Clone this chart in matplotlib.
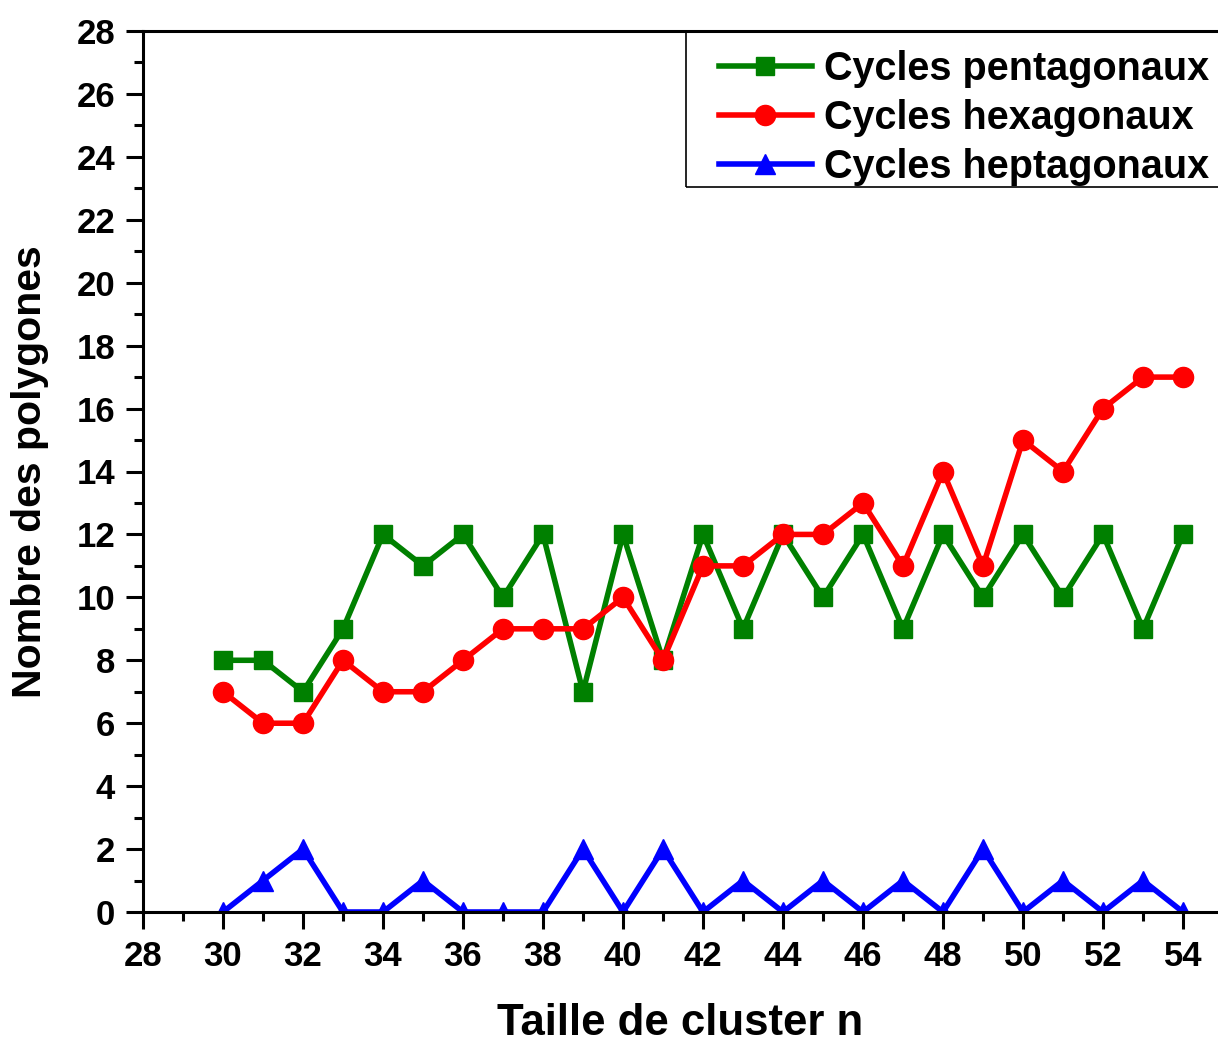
import matplotlib.pyplot as plt
from matplotlib.patches import Rectangle
from matplotlib.ticker import MultipleLocator

plt.rcParams['font.family'] = ['Liberation Sans', 'DejaVu Sans']
plt.rcParams['font.weight'] = 'bold'

# Data
taille = [30, 31, 32, 33, 34, 35, 36, 37, 38, 39, 40, 41, 42,
          43, 44, 45, 46, 47, 48, 49, 50, 51, 52, 53, 54]
penta = [8, 8, 7, 9, 12, 11, 12, 10, 12, 7, 12, 8, 12,
         9, 12, 10, 12, 9, 12, 10, 12, 10, 12, 9, 12]
hexa = [7, 6, 6, 8, 7, 7, 8, 9, 9, 9, 10, 8, 11,
        11, 12, 12, 13, 11, 14, 11, 15, 14, 16, 17, 17]
hepta = [0, 1, 2, 0, 0, 1, 0, 0, 0, 2, 0, 2, 0,
         1, 0, 1, 0, 1, 0, 2, 0, 1, 0, 1, 0]

W, H = 1218, 1043
fig = plt.figure(figsize=(W / 100, H / 100), dpi=100)
ax = fig.add_axes([143 / W, (H - 912) / H, 1 - 143 / W, (912 - 31) / H])

ax.plot(taille, penta, color='#008000', linewidth=4, marker='s', markersize=13,
        label='Cycles pentagonaux')
ax.plot(taille, hexa, color='#ff0000', linewidth=4, marker='o', markersize=14.5,
        label='Cycles hexagonaux')
ax.plot(taille, hepta, color='#0000ff', linewidth=4, marker='^', markersize=15,
        label='Cycles heptagonaux')

ax.set_xlim(28, 54.875)
ax.set_ylim(0, 28)
ax.xaxis.set_major_locator(MultipleLocator(2))
ax.xaxis.set_minor_locator(MultipleLocator(1))
ax.yaxis.set_major_locator(MultipleLocator(2))
ax.yaxis.set_minor_locator(MultipleLocator(1))

for side in ['left', 'bottom', 'top']:
    ax.spines[side].set_linewidth(2.2)
ax.spines['right'].set_visible(False)

ax.tick_params(which='major', direction='out', length=12, width=2.2, labelsize=25, pad=8)
ax.tick_params(which='minor', direction='out', length=6.5, width=2.2)
ax.tick_params(top=False, right=False, which='both')

ax.set_xlabel('Taille de cluster n', fontsize=31.5, fontweight='bold', labelpad=22)
ax.set_ylabel('Nombre des polygones', fontsize=29.5, fontweight='bold', labelpad=20)

# legend box runs off the right edge in the original, so draw the frame separately
leg = ax.legend(loc='upper left', bbox_to_anchor=(701 / W, 1 - 32 / H),
                bbox_transform=fig.transFigure, fontsize=28.5, frameon=False,
                borderpad=0.45, labelspacing=0.28, handlelength=2.35,
                handletextpad=0.3, borderaxespad=0)
fig.patches.append(Rectangle((686 / W, 1 - 187 / H), 0.5, (187 - 32) / H,
                             transform=fig.transFigure, fill=False,
                             edgecolor='black', linewidth=1.2, zorder=5))

fig.savefig('out.png', dpi=100)
